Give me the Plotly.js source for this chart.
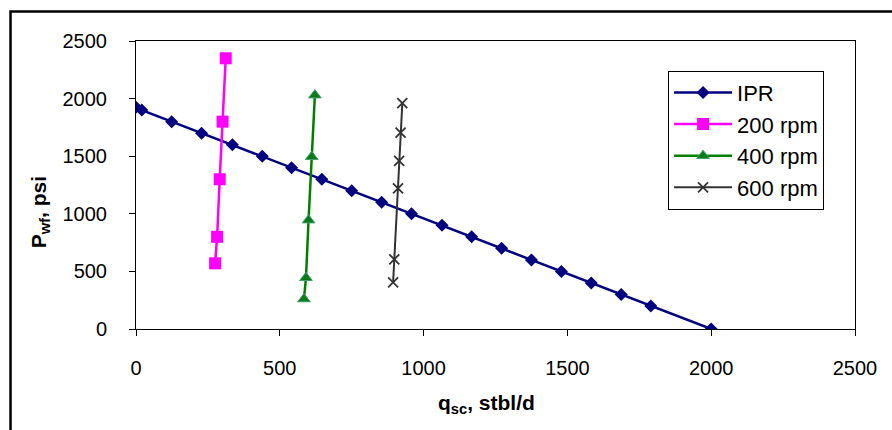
<!DOCTYPE html>
<html>
<head>
<meta charset="utf-8">
<script src="https://cdn.plot.ly/plotly-3.0.1.min.js"></script>
<style>html,body{margin:0;padding:0;background:#fff;}#chart{width:892px;height:430px;}</style>
</head>
<body>
<div id="chart"></div>
<script>
// IPR curve
const iprQ = [0, 20, 124, 228, 335, 439, 541, 646, 750, 854, 958, 1064, 1167, 1271, 1375, 1479, 1583, 1687, 1790, 2000];
const iprP = [1925, 1900, 1800, 1700, 1600, 1500, 1400, 1300, 1200, 1100, 1000, 900, 800, 700, 600, 500, 400, 300, 200, 0];
// 200 rpm
const rpm200Q = [275, 282, 291, 301, 312];
const rpm200P = [570, 800, 1300, 1800, 2350];
// 400 rpm
const rpm400Q = [584, 591, 600, 611, 622];
const rpm400P = [260, 445, 945, 1495, 2030];
// 600 rpm
const rpm600Q = [894, 898, 911, 915, 920, 926];
const rpm600P = [405, 605, 1220, 1460, 1705, 1960];

const seriesNames = ["IPR", "200 rpm", "400 rpm", "600 rpm"];
const xTicks = [0, 500, 1000, 1500, 2000, 2500];
const yTicks = [0, 500, 1000, 1500, 2000, 2500];
const xTitle = "<b>q<sub>sc</sub>, stbl/d</b>";
const yTitle = "<b>P<sub>wf</sub>, psi</b>";

const font = "Liberation Sans, Arial, sans-serif";

const traces = [
  {x: iprQ, y: iprP, name: seriesNames[0], mode: "lines+markers",
   line: {color: "#000080", width: 2.5},
   marker: {symbol: "diamond", size: 10, color: "#000080"}},
  {x: rpm200Q, y: rpm200P, name: seriesNames[1], mode: "lines+markers",
   line: {color: "#FF00FF", width: 2.5},
   marker: {symbol: "square", size: 12, color: "#FF00FF"}},
  {x: rpm400Q, y: rpm400P, name: seriesNames[2], mode: "lines+markers",
   line: {color: "#008000", width: 2.5},
   marker: {symbol: "triangle-up", size: 11, color: "#0a7a1a", line: {color: "#3f9f6a", width: 1}}},
  {x: rpm600Q, y: rpm600P, name: seriesNames[3], mode: "lines+markers",
   line: {color: "#333333", width: 2},
   marker: {symbol: "x-thin-open", size: 10, color: "#333333", line: {color: "#333333", width: 1.8}}}
];

const layout = {
  width: 892, height: 430,
  margin: {l: 136, r: 37, t: 41, b: 101},
  paper_bgcolor: "#ffffff", plot_bgcolor: "#ffffff",
  font: {family: font, size: 20, color: "#000"},
  showlegend: true,
  legend: {x: 0.74, y: 0.897, xanchor: "left", yanchor: "top",
    bordercolor: "#000", borderwidth: 1, bgcolor: "#fff", itemwidth: 58,
    font: {family: font, size: 22, color: "#000"}, tracegroupgap: 0},
  xaxis: {range: [0, 2500], tickvals: xTicks, ticktext: xTicks.map(String),
    showgrid: false, zeroline: false, showline: true, mirror: true,
    linecolor: "#000", linewidth: 1, ticks: "outside", ticklen: 6, tickcolor: "#000",
    ticklabelstandoff: 15,
    tickfont: {family: font, size: 20, color: "#000"}},
  yaxis: {range: [0, 2500], tickvals: yTicks, ticktext: yTicks.map(String),
    showgrid: false, zeroline: false, showline: true, mirror: true,
    linecolor: "#000", linewidth: 1, ticks: "outside", ticklen: 6, tickcolor: "#000",
    ticklabelstandoff: 18,
    tickfont: {family: font, size: 20, color: "#000"}},
  annotations: [
    {text: xTitle, xref: "paper", yref: "paper", x: 0.487, y: -0.26, xanchor: "center", yanchor: "middle",
     showarrow: false, font: {family: font, size: 21, color: "#000"}},
    {text: yTitle, xref: "paper", yref: "paper", x: -0.1335, y: 0.405, xanchor: "center", yanchor: "middle",
     textangle: -90, showarrow: false, font: {family: font, size: 21, color: "#000"}}
  ],
  shapes: [
    {type: "rect", xref: "paper", yref: "paper", x0: -0.1745, x1: 1.07, y0: -0.4, y1: 1.1025,
     line: {color: "#000", width: 2.5}, fillcolor: "rgba(0,0,0,0)", layer: "below"}
  ]
};

Plotly.newPlot("chart", traces, layout, {displayModeBar: false, staticPlot: true});
</script>
</body>
</html>
